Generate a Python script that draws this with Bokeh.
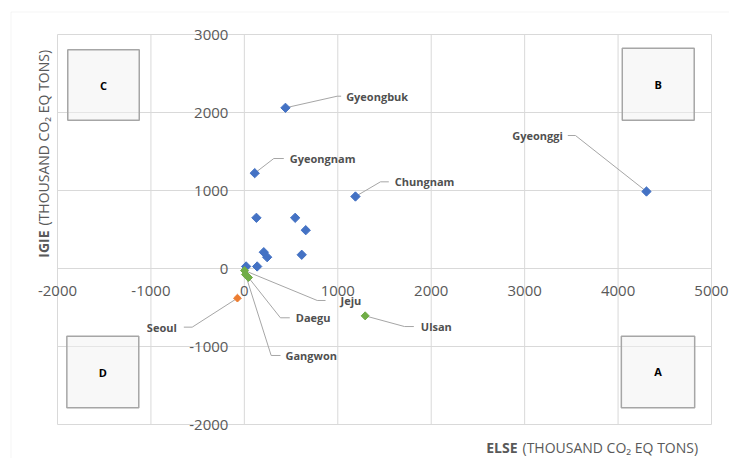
import math
from bokeh.plotting import figure
from bokeh.models import ColumnDataSource, Label, BoxAnnotation
from bokeh.core.properties import value
from bokeh.embed import file_html
from bokeh.resources import INLINE

# ---------------- data ----------------
x_ticks = [-2000, -1000, 0, 1000, 2000, 3000, 4000, 5000]
x_tick_labels = ["-2000", "-1000", "0", "1000", "2000", "3000", "4000", "5000"]
y_ticks = [-2000, -1000, 0, 1000, 2000, 3000]
y_tick_labels = ["-2000", "-1000", "0", "1000", "2000", "3000"]

# quadrant B (blue)
blue_x = [440, 111, 1189, 4304, 129, 544, 657, 208, 244, 614, 19, 137]
blue_y = [2060, 1222, 923, 987, 650, 650, 491, 209, 145, 176, 26, 26]
blue_names = ["Gyeongbuk", "Gyeongnam", "Chungnam", "Gyeonggi", "", "", "", "", "", "", "", ""]
# quadrant A (green)
green_x = [1293, 2, 12, 44]
green_y = [-607, -26, -77, -115]
green_names = ["Ulsan", "Jeju", "Gangwon", "Daegu"]
# quadrant D (orange)
orange_x = [-74]
orange_y = [-380]
orange_names = ["Seoul"]

# data-label leader lines (elbow and end of the leader, in data units)
label_names = ["Gyeongbuk", "Gyeongnam", "Chungnam", "Gyeonggi", "Jeju", "Daegu", "Gangwon", "Ulsan", "Seoul"]
label_elbow_x = [994, 315, 1457, 3544, 780, 386, 287, 1714, -558]
label_elbow_y = [2209, 1410, 1111, 1705, -410, -632, -1115, -744, -752]
label_end_x = [1036, 422, 1546, 3462, 869, 486, 387, 1814, -648]
label_gap = [5, 6, 6, -5, 15, 6, 5, 7, -7]

# quadrant boxes
quad_names = ["A", "B", "C", "D"]
quad_left = [4035, 4045, -1890, -1900]
quad_right = [4820, 4815, -1125, -1130]
quad_bottom = [-1785, 1900, 1900, -1785]
quad_top = [-868, 2825, 2805, -870]

X_MIN, X_MAX = -2000, 5000
Y_MIN, Y_MAX = -2000, 3000

# ---------------- layout / style ----------------
W, H = 729, 458
PL, PR, PT, PB = 57, 711, 34, 424          # plot-area edges in canvas pixels
SX = (PR - PL) / (X_MAX - X_MIN)
SY = (PB - PT) / (Y_MAX - Y_MIN)
x_start = X_MIN - PL / SX
x_end = X_MAX + (W - PR) / SX
y_end = Y_MAX + PT / SY
y_start = Y_MIN - (H - PB) / SY


def dx(px):
    return x_start + px / SX


def dy(py):
    return y_end - py / SY


BLUE = "#4472C4"
GREEN = "#70AD47"
ORANGE = "#ED7D31"
GRID = "#d9d9d9"
TXT = "#595959"
FONT = "Open Sans"

p = figure(width=W, height=H, x_range=(x_start, x_end), y_range=(y_start, y_end),
           output_backend="svg", toolbar_location=None,
           x_axis_location=None, y_axis_location=None,
           min_border=0, min_border_left=0, min_border_right=0,
           min_border_top=0, min_border_bottom=0,
           background_fill_color="white", border_fill_color="white")
p.outline_line_color = None
p.xgrid.visible = False
p.ygrid.visible = False

# outer chart-area border
p.add_layout(BoxAnnotation(left=dx(10.5), right=x_end + 5000, top=dy(11.5), bottom=y_start - 5000,
                           fill_color=None, line_color=GRID, line_width=1))

# grid lines (crossing axes at the origin)
p.segment(x0=x_ticks, x1=x_ticks, y0=[Y_MIN] * len(x_ticks), y1=[Y_MAX] * len(x_ticks),
          line_color=GRID, line_width=1)
p.segment(x0=[X_MIN] * len(y_ticks), x1=[X_MAX] * len(y_ticks), y0=y_ticks, y1=y_ticks,
          line_color=GRID, line_width=1)

# tick labels placed at the axes crossing (0, 0)
p.text(x=x_ticks, y=[0] * len(x_ticks), text=x_tick_labels, y_offset=22,
       text_align="center", text_baseline="middle", text_font=value(FONT),
       text_font_size="15px", text_color=TXT)
p.text(x=[0] * len(y_ticks), y=y_ticks, text=y_tick_labels, x_offset=-16,
       text_align="right", text_baseline="middle", text_font=value(FONT),
       text_font_size="15px", text_color=TXT)

# quadrant boxes
p.quad(left=quad_left, right=quad_right, top=quad_top, bottom=quad_bottom,
       fill_color="#f2f2f2", fill_alpha=0.5, line_color="#a6a6a6", line_width=1.5)
qcx = [(a + b) / 2 for a, b in zip(quad_left, quad_right)]
qcy = [(a + b) / 2 for a, b in zip(quad_bottom, quad_top)]
p.text(x=qcx, y=qcy, text=quad_names, text_align="center", text_baseline="middle",
       text_font=value(FONT), text_font_style="bold", text_font_size="11px",
       text_color="black")

# leader lines
pts = {}
for xs, ys, ns in ((blue_x, blue_y, blue_names), (green_x, green_y, green_names),
                   (orange_x, orange_y, orange_names)):
    for x, y, n in zip(xs, ys, ns):
        if n:
            pts[n] = (x, y)
lx, ly = [], []
for n, ex, ey, tx in zip(label_names, label_elbow_x, label_elbow_y, label_end_x):
    px_, py_ = pts[n]
    lx.append([px_, ex, tx])
    ly.append([py_, ey, ey])
p.multi_line(xs=lx, ys=ly, line_color="#a6a6a6", line_width=1)

# markers
p.scatter(blue_x, blue_y, marker="square", angle=math.pi / 4, size=6.6,
          fill_color=BLUE, line_color=BLUE)
p.scatter(green_x, green_y, marker="square", angle=math.pi / 4, size=5.7,
          fill_color=GREEN, line_color=GREEN)
p.scatter(orange_x, orange_y, marker="square", angle=math.pi / 4, size=5.5,
          fill_color=ORANGE, line_color=ORANGE)

# data labels
for sign, al in ((1, "left"), (-1, "right")):
    idx = [i for i, g in enumerate(label_gap) if g * sign > 0]
    src = ColumnDataSource(dict(
        x=[label_end_x[i] for i in idx],
        y=[label_elbow_y[i] for i in idx],
        t=[label_names[i] for i in idx],
        o=[label_gap[i] for i in idx]))
    p.text(x="x", y="y", text="t", x_offset="o", source=src, text_align=al,
           text_baseline="middle", text_font=value(FONT), text_font_style="bold",
           text_font_size="11px", text_color="#505050")

# axis titles (bold variable name + unit)
common = dict(text_font=FONT, text_font_size="14px", text_color=TXT, text_baseline="middle")
p.add_layout(Label(x=dx(43), y=dy(230), text="IGIE", angle=90, angle_units="deg",
                   text_align="right", text_font_style="bold", **common))
p.add_layout(Label(x=dx(43), y=dy(225), text="(THOUSAND CO\u2082 EQ TONS)", angle=90,
                   angle_units="deg", text_align="left", **common))
p.add_layout(Label(x=dx(517), y=dy(447), text="ELSE", text_align="right",
                   text_font_style="bold", **common))
p.add_layout(Label(x=dx(522), y=dy(447), text="(THOUSAND CO\u2082 EQ TONS)",
                   text_align="left", **common))

open("out.html", "w").write(file_html(p, INLINE))
